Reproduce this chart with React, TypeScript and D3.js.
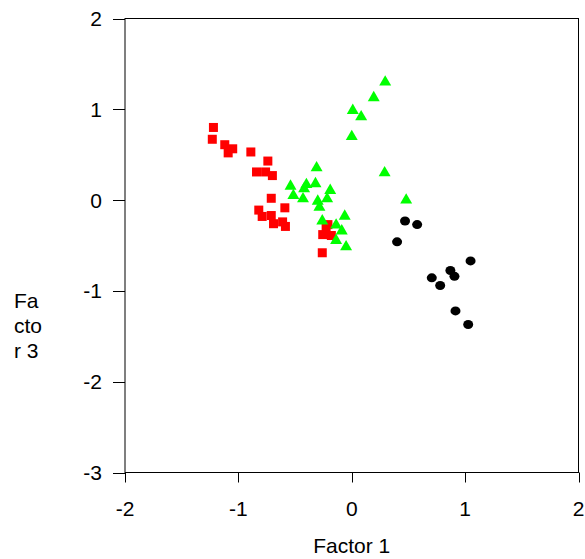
import React from "react";
import * as d3 from "d3";

// Factor scores per group: [Factor 1, Factor 3]
const redSquares: [number, number][] = [
  [-1.22, 0.8], [-1.23, 0.67], [-1.12, 0.61], [-1.05, 0.565], [-1.09, 0.52],
  [-0.89, 0.53], [-0.74, 0.43], [-0.84, 0.31], [-0.76, 0.31], [-0.7, 0.27],
  [-0.71, 0.02], [-0.59, -0.085], [-0.82, -0.11], [-0.79, -0.18], [-0.71, -0.17],
  [-0.69, -0.26], [-0.61, -0.24], [-0.585, -0.29],
  [-0.226, -0.305], [-0.256, -0.38], [-0.18, -0.39], [-0.21, -0.27], [-0.26, -0.58],
];

const greenTriangles: [number, number][] = [
  [0.295, 1.3], [0.194, 1.127], [0.009, 0.987], [0.083, 0.917], [0.0, 0.7],
  [0.29, 0.3], [0.48, 0.0], [-0.31, 0.355], [-0.54, 0.153], [-0.4, 0.17],
  [-0.32, 0.18], [-0.42, 0.124], [-0.515, 0.05], [-0.43, 0.014], [-0.19, 0.106],
  [-0.217, 0.014], [-0.3, -0.012], [-0.285, -0.078], [-0.062, -0.177], [-0.26, -0.23],
  [-0.138, -0.276], [-0.088, -0.34], [-0.138, -0.445], [-0.05, -0.515],
];

const blackCircles: [number, number][] = [
  [0.47, -0.23], [0.577, -0.27], [0.4, -0.46], [1.048, -0.67], [0.87, -0.775],
  [0.906, -0.84], [0.706, -0.856], [0.78, -0.94], [0.915, -1.22], [1.027, -1.37],
];

const xTicks = [-2, -1, 0, 1, 2];
const yTicks = [2, 1, 0, -1, -2, -3];
const xTitle = "Factor 1";
const yTitleLines = ["Fa", "cto", "r 3"];

const W = 585;
const H = 559;
const left = 125;
const right = 578.5;
const top = 18.5;
const bottom = 472.5;
const FONT = "'Liberation Sans', Arial, sans-serif";
const FS = 21;

export default function App() {
  const x = d3.scaleLinear().domain([-2, 2]).range([left, right]);
  const y = d3.scaleLinear().domain([-3, 2]).range([bottom, top]);
  const tri = d3.symbol().type(d3.symbolTriangle).size(62)() as string;

  return (
    <svg
      width={W}
      height={H}
      style={{ position: "absolute", left: 0, top: 0, background: "#fff" }}
      fontFamily={FONT}
    >
      {/* frame */}
      <rect
        x={left}
        y={top}
        width={right - left}
        height={bottom - top}
        fill="none"
        stroke="#000"
        strokeWidth={1}
      />
      {/* y axis */}
      {yTicks.map((t) => (
        <g key={"y" + t}>
          <line x1={left - 12} x2={left} y1={Math.round(y(t)) + 0.5} y2={Math.round(y(t)) + 0.5} stroke="#000" />
          <text x={102} y={y(t) + 7.5} textAnchor="end" fontSize={FS} fill="#000">
            {t}
          </text>
        </g>
      ))}
      {/* x axis */}
      {xTicks.map((t) => (
        <g key={"x" + t}>
          <line x1={Math.round(x(t)) + 0.5} x2={Math.round(x(t)) + 0.5} y1={bottom} y2={bottom + 10} stroke="#000" />
          <text x={x(t)} y={515.5} textAnchor="middle" fontSize={FS} fill="#000">
            {t}
          </text>
        </g>
      ))}
      <text x={(left + right) / 2} y={553} textAnchor="middle" fontSize={FS} fill="#000">
        {xTitle}
      </text>
      {yTitleLines.map((s, i) => (
        <text key={s} x={14} y={307.5 + i * 25.3} fontSize={FS} fill="#000">
          {s}
        </text>
      ))}

      {/* points */}
      {redSquares.map(([a, b], i) => (
        <rect key={"r" + i} x={x(a) - 4.5} y={y(b) - 4.5} width={9} height={9} fill="#ff0000" />
      ))}
      {greenTriangles.map(([a, b], i) => (
        <path key={"g" + i} d={tri} transform={`translate(${x(a)},${y(b)})`} fill="#00ff00" />
      ))}
      {blackCircles.map(([a, b], i) => (
        <ellipse key={"b" + i} cx={x(a)} cy={y(b)} rx={5} ry={4.5} fill="#000" />
      ))}
    </svg>
  );
}
